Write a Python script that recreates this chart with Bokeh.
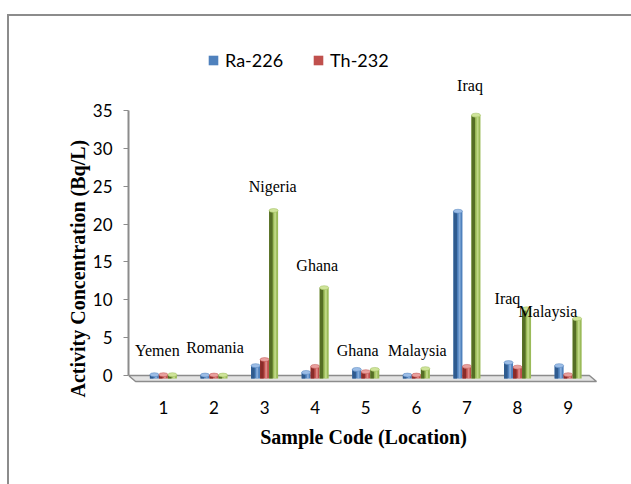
import numpy as np
from bokeh.plotting import figure
from bokeh.models import (ColumnDataSource, Legend, LegendItem, FixedTicker, Range1d, Title)
from bokeh.embed import file_html
from bokeh.resources import INLINE
from bokeh.core.properties import value

# ---------------- data ----------------
sample_codes = [1, 2, 3, 4, 5, 6, 7, 8, 9]
locations = ["Yemen", "Romania", "Nigeria", "Ghana", "Ghana", "Malaysia", "Iraq", "Iraq", "Malaysia"]
ra226 = [0.1, 0.05, 1.3, 0.4, 0.8, 0.05, 21.7, 1.7, 1.3]
th232 = [0.1, 0.05, 2.1, 1.2, 0.5, 0.05, 1.2, 1.1, 0.1]
third = [0.1, 0.05, 21.8, 11.6, 0.8, 0.9, 34.4, 8.8, 7.5]
y_ticks = [0, 5, 10, 15, 20, 25, 30, 35]

# ---------------- layout / style ----------------
label_dx = [-0.12, 0.02, 0.16, 0.04, -0.16, 0.02, 0.06, -0.2, -0.4]
label_y = [3.3, 3.7, 25.0, 14.5, 3.3, 3.3, 38.3, 10.2, 8.5]

bar_w = 0.178
base = -0.4
series = [
    ("Ra-226", ra226, -bar_w, ("#2f5b8f", "#4f81bd", "#9cbde6")),
    ("Th-232", th232, 0.0, ("#8a2c29", "#c0504d", "#e8a09e")),
    ("third", third, bar_w, ("#556e25", "#9bbb59", "#cfe49a")),
]

p = figure(width=631, height=484, output_backend="svg", toolbar_location=None,
           x_range=Range1d(0.31, 9.6), y_range=Range1d(-2.25, 43.6),
           min_border_left=128, min_border_right=33, min_border_top=45, min_border_bottom=92)
p.grid.visible = False
p.outline_line_color = None
p.background_fill_color = "white"
p.border_fill_alpha = 0
p.styles = {"box-shadow": "inset 7px 0 0 0 white, inset 0 14px 0 0 white, "
                          "inset 0 16px 0 0 #8c8c8c, inset 9px 0 0 0 #8c8c8c"}

# 3D-like floor
x0, x1 = 0.31, 9.42
p.patch([x0, x1, x1 + 0.14, x0 + 0.14], [0, 0, -0.8, -0.8],
        fill_color="#e3e3e3", line_color="#8c8c8c", line_width=1.5)

legend_items = []
xs = np.array(sample_codes, dtype=float)
for name, vals, off, (dark, main, light) in series:
    src = ColumnDataSource(dict(x=xs + off, top=vals))
    r = p.vbar(x="x", width=bar_w, bottom=base, top="top", source=src,
               fill_color=main, line_color=None)
    p.vbar(x=xs + off - bar_w * 0.3, width=bar_w * 0.4, bottom=base, top=vals,
           fill_color=dark, line_color=None)
    p.vbar(x=xs + off + bar_w * 0.18, width=bar_w * 0.22, bottom=base, top=vals,
           fill_color=light, line_color=None, fill_alpha=0.7)
    p.ellipse(x=xs + off, y=vals, width=bar_w, height=4, height_units="screen",
              fill_color=light, line_color=main, line_width=0.5)
    if name != "third":
        legend_items.append(LegendItem(label=name, renderers=[r]))

# location labels
lsrc = ColumnDataSource(dict(x=xs + np.array(label_dx), y=label_y, t=locations))
p.text(x="x", y="y", text="t", source=lsrc, text_align="center", text_baseline="middle",
       text_font=value("Liberation Serif"), text_font_size="16px", text_color="black")

# axes
yax = p.yaxis[0]
yax.ticker = FixedTicker(ticks=y_ticks)
yax.bounds = (0, 35)
yax.axis_line_color = "#8c8c8c"
yax.axis_line_width = 2
yax.major_tick_line_color = "#8c8c8c"
yax.major_tick_out = 5
yax.major_tick_in = 0
yax.minor_tick_line_color = None
yax.major_label_text_font = "Lato"
yax.major_label_text_font_size = "17px"
yax.major_label_text_color = "black"
yax.major_label_standoff = 11

xax = p.xaxis[0]
xax.ticker = FixedTicker(ticks=sample_codes)
xax.axis_line_color = None
xax.major_tick_line_color = None
xax.minor_tick_line_color = None
xax.major_label_text_font = "Lato"
xax.major_label_text_font_size = "17px"
xax.major_label_text_color = "black"
xax.major_label_standoff = 2
xax.axis_label = "Sample Code (Location)"
xax.axis_label_text_font = "Liberation Serif"
xax.axis_label_text_font_style = "bold"
xax.axis_label_text_font_size = "20px"
xax.axis_label_text_color = "black"
xax.axis_label_standoff = 9

# y-axis title as a side-panel title, starting near the bottom of the plot area
p.add_layout(Title(text="Activity Concentration (Bq/L)", align="left", offset=-5,
                   standoff=1, text_font="Liberation Serif", text_font_style="bold",
                   text_font_size="20px", text_color="black"), "left")

legend = Legend(items=legend_items, orientation="horizontal", location=(79, 321),
                glyph_width=12, glyph_height=12, label_standoff=6, spacing=29,
                padding=0, margin=0, border_line_color=None, background_fill_alpha=0,
                label_text_font="Lato", label_text_font_size="18px", label_text_color="black")
p.add_layout(legend)

open("out.html", "w").write(file_html(p, INLINE))
